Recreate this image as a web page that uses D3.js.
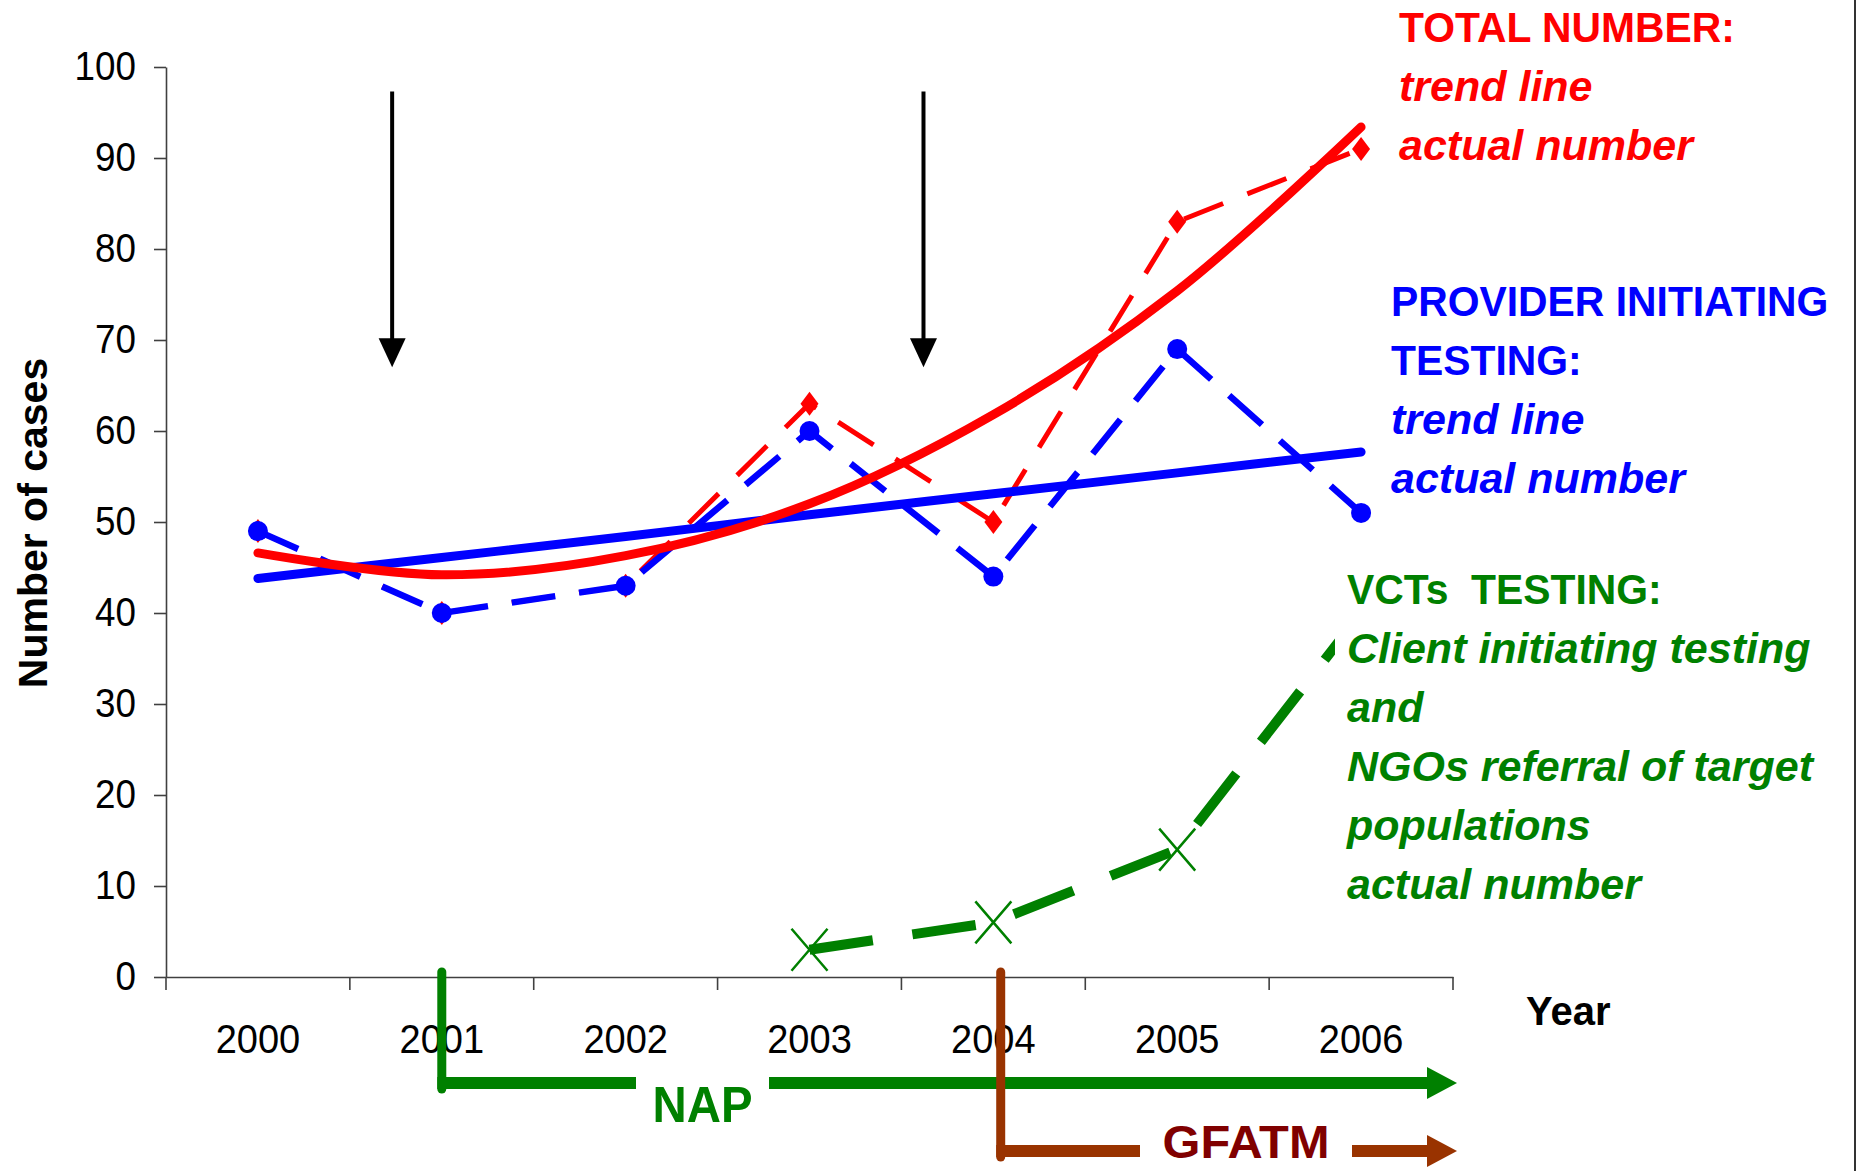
<!DOCTYPE html>
<html>
<head>
<meta charset="utf-8">
<script src="https://cdn.jsdelivr.net/npm/d3@7"></script>
<style>
  body { margin: 0; background: #fff; }
  svg { display: block; font-family: Arial, "Liberation Sans", sans-serif; }
</style>
</head>
<body>
<svg id="chart" width="1859" height="1171"></svg>
<script>
// values
var years = [2000, 2001, 2002, 2003, 2004, 2005, 2006];
var totalActual = [49, 40, 43, 63, 50, 83, 91];
var providerActual = [49, 40, 43, 60, 44, 69, 51];
var vctActual = [null, null, null, 3, 6, 14, 40];
var totalTrend = [46.6, 44.2, 46.3, 52.0, 61.8, 75.4, 93.4];
var providerTrend = [43.8, 46.1, 48.4, 50.8, 53.1, 55.4, 57.7];
var yTicks = [0, 10, 20, 30, 40, 50, 60, 70, 80, 90, 100];

// black event arrows: year + fraction of a year step, from / to value
var eventArrows = [
  {year: 2000, offset: 0.73, from: 97.3, to: 67},
  {year: 2003, offset: 0.62, from: 97.3, to: 67}
];
// programme arrows under the axis
var programs = [
  {name: "NAP", year: 2001, offset: 0, row: 1083, base: 1122, size: 50, colour: "#008000", text: "#008000", gap: [636, 769], width: 100},
  {name: "GFATM", year: 2004, offset: 0.04, row: 1151, base: 1158, size: 46, colour: "#993300", text: "#800000", gap: [1140, 1352], width: 167}
];

var legendTotal = ["TOTAL NUMBER:", "trend line", "actual number"];
var legendProvider = ["PROVIDER INITIATING", "TESTING:", "trend line", "actual number"];
var legendVct = ["VCTs  TESTING:", "Client initiating testing", "and", "NGOs referral of target", "populations", "actual number"];

var RED = "#ff0000", BLUE = "#0000ff", GREEN = "#008000";

var svg = d3.select("#chart");

var x = d3.scaleBand().domain(years).range([166, 1453]).padding(0);
var y = d3.scaleLinear().domain([0, 100]).range([977, 67]);
function cx(yr, off) { return x(yr) + x.bandwidth() / 2 + (off || 0) * x.step(); }

function condense(sel, k) {
    sel.each(function () {
        var w = this.getComputedTextLength();
        d3.select(this).attr("textLength", w * k).attr("lengthAdjust", "spacingAndGlyphs");
    });
}

// y axis
var yAxis = svg.append("g")
    .attr("transform", "translate(166,0)")
    .call(d3.axisLeft(y).tickValues(yTicks).tickSize(12).tickPadding(18).tickSizeOuter(0));
yAxis.selectAll("text").attr("font-size", 40).attr("fill", "#000").attr("font-family", "Arial, 'Liberation Sans'");
yAxis.selectAll("line, path").attr("stroke", "#404040").attr("stroke-width", 1.6);
condense(yAxis.selectAll("text"), 0.92);

// x axis
var xAxis = svg.append("g")
    .attr("transform", "translate(0,977)")
    .call(d3.axisBottom(x).tickSize(0).tickPadding(48).tickSizeOuter(0));
xAxis.selectAll("text").attr("font-size", 40).attr("fill", "#000").attr("font-family", "Arial, 'Liberation Sans'");
xAxis.select("path").attr("stroke", "#404040").attr("stroke-width", 1.6);
condense(xAxis.selectAll("text"), 0.95);
// tick marks between the categories
var bounds = years.map(function (d) { return x(d); }).concat([x.range()[1]]);
xAxis.selectAll(".bound").data(bounds).enter().append("line")
    .attr("class", "bound")
    .attr("x1", function (d) { return d; }).attr("x2", function (d) { return d; })
    .attr("y1", 0).attr("y2", 13)
    .attr("stroke", "#404040").attr("stroke-width", 1.6);

// axis titles
svg.append("text")
    .attr("transform", "translate(47,523) rotate(-90)")
    .attr("text-anchor", "middle")
    .attr("font-size", 41).attr("font-weight", "bold")
    .text("Number of cases");
svg.append("text")
    .attr("x", 1526).attr("y", 1025)
    .attr("font-size", 40).attr("font-weight", "bold")
    .text("Year");

function series(vals) {
    return years.map(function (d, i) { return {year: d, v: vals[i]}; }).filter(function (d) { return d.v != null; });
}

var straight = d3.line().x(function (d) { return cx(d.year); }).y(function (d) { return y(d.v); });
var smooth = d3.line().x(function (d) { return cx(d.year); }).y(function (d) { return y(d.v); }).curve(d3.curveCatmullRom);

// actual number lines
svg.append("path").datum(series(vctActual))
    .attr("d", straight).attr("fill", "none")
    .attr("stroke", GREEN).attr("stroke-width", 10).attr("stroke-dasharray", "64,40");
svg.append("path").datum(series(totalActual))
    .attr("d", straight).attr("fill", "none")
    .attr("stroke", RED).attr("stroke-width", 5).attr("stroke-dasharray", "42,26");
svg.append("path").datum(series(providerActual))
    .attr("d", straight).attr("fill", "none")
    .attr("stroke", BLUE).attr("stroke-width", 6.5).attr("stroke-dasharray", "44,24");

// markers
svg.append("g").selectAll("path").data(series(vctActual)).enter().append("path")
    .attr("transform", function (d) { return "translate(" + cx(d.year) + "," + y(d.v) + ")"; })
    .attr("d", "M-18,-21L18,21M-18,21L18,-21")
    .attr("stroke", GREEN).attr("stroke-width", 2.5).attr("fill", "none");
svg.append("g").selectAll("path").data(series(totalActual)).enter().append("path")
    .attr("transform", function (d) { return "translate(" + cx(d.year) + "," + y(d.v) + ")"; })
    .attr("d", "M0,-12L9,0L0,12L-9,0Z")
    .attr("fill", RED);
svg.append("g").selectAll("circle").data(series(providerActual)).enter().append("circle")
    .attr("cx", function (d) { return cx(d.year); })
    .attr("cy", function (d) { return y(d.v); })
    .attr("r", 10).attr("fill", BLUE);

// trend lines
svg.append("path").datum(series(providerTrend))
    .attr("d", smooth).attr("fill", "none")
    .attr("stroke", BLUE).attr("stroke-width", 9).attr("stroke-linecap", "round");
svg.append("path").datum(series(totalTrend))
    .attr("d", smooth).attr("fill", "none")
    .attr("stroke", RED).attr("stroke-width", 9).attr("stroke-linecap", "round");

// black arrows
eventArrows.forEach(function (a) {
    var ax = cx(a.year, a.offset), y0 = y(a.from), y1 = y(a.to);
    svg.append("line").attr("x1", ax).attr("x2", ax).attr("y1", y0).attr("y2", y1 - 25)
        .attr("stroke", "#000").attr("stroke-width", 4);
    svg.append("path")
        .attr("d", "M" + (ax - 13.5) + "," + (y1 - 29) + "L" + (ax + 13.5) + "," + (y1 - 29) + "L" + ax + "," + y1 + "Z")
        .attr("fill", "#000");
});

// legends
function legend(lines, colour, x0, y0, boldUpright) {
    var g = svg.append("g");
    lines.forEach(function (t, i) {
        var upright = i < boldUpright;
        var tx = g.append("text")
            .attr("x", x0).attr("y", y0 + i * 59)
            .attr("font-size", 43).attr("font-weight", "bold")
            .attr("font-style", upright ? "normal" : "italic")
            .attr("fill", colour)
            .style("white-space", "pre")
            .text(t);
        if (upright) condense(tx, 0.95);
    });
    return g;
}
legend(legendTotal, RED, 1399, 42, 1);
legend(legendProvider, BLUE, 1391, 316, 2);
svg.append("rect").attr("x", 1335).attr("y", 566).attr("width", 517).attr("height", 346).attr("fill", "#fff");
legend(legendVct, GREEN, 1347, 604, 1);

// programme arrows
programs.forEach(function (p) {
    var px = cx(p.year, p.offset), end = x.range()[1] + 4;
    svg.append("line").attr("x1", px).attr("x2", px).attr("y1", 972).attr("y2", p.row + 6)
        .attr("stroke", p.colour).attr("stroke-width", 9).attr("stroke-linecap", "round");
    svg.append("line").attr("x1", px - 4.5).attr("x2", p.gap[0]).attr("y1", p.row).attr("y2", p.row)
        .attr("stroke", p.colour).attr("stroke-width", 12);
    svg.append("line").attr("x1", p.gap[1]).attr("x2", end - 28).attr("y1", p.row).attr("y2", p.row)
        .attr("stroke", p.colour).attr("stroke-width", 12);
    svg.append("path")
        .attr("d", "M" + (end - 30) + "," + (p.row - 16) + "L" + end + "," + p.row + "L" + (end - 30) + "," + (p.row + 16) + "Z")
        .attr("fill", p.colour);
    svg.append("text")
        .attr("x", (p.gap[0] + p.gap[1]) / 2).attr("y", p.base)
        .attr("text-anchor", "middle")
        .attr("font-size", p.size).attr("font-weight", "bold")
        .attr("fill", p.text)
        .attr("textLength", p.width).attr("lengthAdjust", "spacingAndGlyphs")
        .text(p.name);
});

// frame edge on the right
svg.append("line").attr("x1", 1855).attr("x2", 1855).attr("y1", 0).attr("y2", 1171)
    .attr("stroke", "#333").attr("stroke-width", 2);
</script>
</body>
</html>
